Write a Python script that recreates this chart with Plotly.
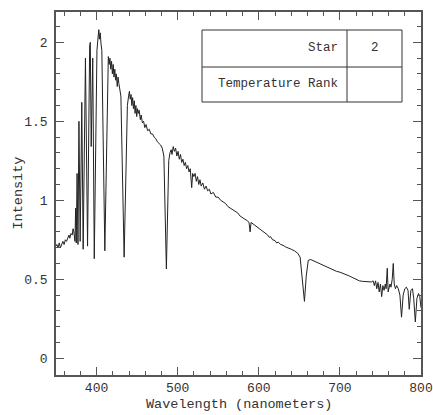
import plotly.graph_objects as go

# Spectrum: wavelength (nm) and intensity
wavelength = [
    350, 351, 352.5, 354, 355.5, 357, 358.5, 360, 361.5, 363, 364.5, 366, 367, 368.5, 370,
    371, 372, 373.4, 374.2, 375.0, 376.0, 377.1, 378.3, 379.8, 381.8, 383.5, 386.3, 388.9,
    391.5, 392.3, 393.4, 395.3, 397.2, 400.5, 402.0, 402.8, 403.5, 404.5, 405.5, 406.5,
    410.2, 413.5, 414.5, 415.5, 416.5, 417.5, 418.5, 419.5, 420.5, 421.5, 422.5, 423.5,
    424.5, 425.5, 426.5, 427.5, 428.5, 430, 434.0, 438, 439.5, 440.5, 441.5, 442.5, 443.5,
    444.5, 445.5, 446.5, 447.5, 448.5, 449.5, 450.5, 451.5, 452.5, 454, 455, 456.5, 458,
    459.5, 461, 463, 465, 467, 469, 471, 473, 475, 477, 479, 481, 483, 486.1, 489, 490.5,
    492, 493, 494.5, 496, 497.5, 499, 500.5, 502, 503.5, 505, 506.5, 508, 509.5, 511,
    512.5, 514, 515.5, 517.3, 518.5, 520, 521.5, 523, 524.5, 526, 527.5, 529, 531, 533,
    535, 537, 539, 541, 544, 547, 550, 553, 556, 559, 562, 565, 568, 571, 574, 577, 580,
    583, 586, 588, 589.3, 590.5, 593, 596, 600, 604, 608, 611, 613, 614.5, 617, 620, 622,
    624, 627, 630, 633, 636, 640, 644, 648, 651, 654, 656.3, 658.5, 661, 664, 668, 672,
    676, 680, 684, 688, 692, 696, 700, 704, 708, 712, 716, 720, 724, 728, 732, 736, 739,
    741, 742.5, 744, 745.5, 747, 748.5, 750, 751.5, 753, 754.5, 756, 757, 758.4, 759.5,
    761.7, 763, 764.5, 765.8, 767, 768.5, 770, 772, 774, 776, 778, 780, 782, 784, 785.5,
    787.5, 789.5, 791, 793, 795, 797, 798.5, 800,
]
intensity = [
    0.71, 0.72, 0.70, 0.73, 0.70, 0.72, 0.74, 0.72, 0.75, 0.74, 0.76, 0.78, 0.76, 0.79, 0.78,
    0.82, 0.80, 0.74, 0.95, 0.73, 1.17, 0.72, 1.50, 0.74, 1.62, 0.69, 1.90, 0.71,
    1.98, 2.00, 1.34, 1.90, 0.63, 1.95, 2.04, 2.08, 2.02, 2.06, 1.99, 1.95,
    0.68, 1.85, 1.91, 1.86, 1.90, 1.83, 1.88, 1.80, 1.86, 1.78, 1.83, 1.76,
    1.80, 1.72, 1.78, 1.74, 1.70, 1.66, 0.64, 1.60, 1.66, 1.69, 1.64, 1.67, 1.60,
    1.65, 1.58, 1.63, 1.55, 1.60, 1.53, 1.58, 1.55, 1.57, 1.51, 1.54, 1.49, 1.50,
    1.46, 1.48, 1.44, 1.45, 1.42, 1.42, 1.40, 1.39, 1.37, 1.36, 1.35, 1.33, 1.28, 0.565, 1.25, 1.30,
    1.32, 1.29, 1.34, 1.31, 1.33, 1.28, 1.31, 1.26, 1.29, 1.24, 1.26, 1.22, 1.24, 1.20,
    1.22, 1.18, 1.20, 1.08, 1.17, 1.15, 1.17, 1.12, 1.15, 1.10, 1.13, 1.09, 1.11, 1.07,
    1.09, 1.06, 1.07, 1.04, 1.05, 1.02, 1.02, 1.00, 0.99, 0.98, 0.96, 0.95, 0.94, 0.93, 0.92, 0.90, 0.89,
    0.885, 0.87, 0.86, 0.80, 0.86, 0.85, 0.835, 0.82, 0.805, 0.79, 0.78, 0.765, 0.77, 0.75, 0.745, 0.73,
    0.735, 0.72, 0.715, 0.705, 0.70, 0.69, 0.68, 0.665, 0.64, 0.50, 0.36, 0.52, 0.62, 0.625, 0.615, 0.605,
    0.60, 0.59, 0.58, 0.57, 0.56, 0.55, 0.545, 0.538, 0.53, 0.52, 0.51, 0.50, 0.49, 0.487, 0.485, 0.487, 0.483,
    0.49, 0.46, 0.49, 0.44, 0.48, 0.42, 0.47, 0.39, 0.46, 0.43, 0.47, 0.44, 0.57, 0.42,
    0.47, 0.45, 0.50, 0.60, 0.47, 0.44, 0.46, 0.44, 0.40, 0.26, 0.40, 0.44, 0.45, 0.43, 0.31,
    0.43, 0.44, 0.38, 0.23, 0.38, 0.41, 0.39, 0.32,
]

x_ticks = [400, 500, 600, 700, 800]
y_ticks = [0, 0.5, 1, 1.5, 2]
y_tick_labels = ["0", "0.5", "1", "1.5", "2"]
x_title = "Wavelength (nanometers)"
y_title = "Intensity"
table_labels = ["Star", "Temperature Rank"]
table_values = ["2", ""]

FONT = "Liberation Mono, DejaVu Sans Mono, monospace"
AX = "#555555"
TXT = "#333333"

fig = go.Figure()
fig.add_trace(go.Scatter(x=wavelength, y=intensity, mode="lines",
                         line=dict(color="#222222", width=1), showlegend=False,
                         hoverinfo="skip"))

axis_common = dict(showgrid=False, zeroline=False, showline=True, linecolor=AX,
                   linewidth=1.5, mirror="ticks", ticks="inside", ticklen=8,
                   tickcolor=AX, tickwidth=1.2, automargin=False,
                   ticklabeloverflow="allow",
                   tickfont=dict(family=FONT, size=13, color=TXT))

fig.update_xaxes(range=[350, 800], tickvals=x_ticks,
                 minor=dict(ticks="inside", ticklen=4, dtick=20, tick0=0,
                            tickcolor=AX, tickwidth=1),
                 **axis_common)
fig.update_yaxes(range=[-0.106, 2.192], tickvals=y_ticks, ticktext=y_tick_labels,
                 minor=dict(ticks="inside", ticklen=4, dtick=0.1, tick0=0,
                            tickcolor=AX, tickwidth=1),
                 ticklabelstandoff=4,
                 **axis_common)

# Axis titles as annotations (pixel offsets from the plot area)
fig.add_annotation(x=0.5, y=0, xref="paper", yref="paper", yshift=-29,
                   text=x_title, showarrow=False, xanchor="center", yanchor="middle",
                   font=dict(family=FONT, size=13.5, color=TXT))
fig.add_annotation(x=0, y=0.5, xref="paper", yref="paper", xshift=-38,
                   text=y_title, showarrow=False, textangle=-90,
                   xanchor="center", yanchor="middle",
                   font=dict(family=FONT, size=13.5, color=TXT))

# Table box in the upper right (paper coordinates, from window pixels)
def px_to_paper_x(p):
    return (p - 56.0) / 365.0

def px_to_paper_y(p):
    return (375.0 - p) / 363.0

x0, x1, xm = px_to_paper_x(202), px_to_paper_x(402), px_to_paper_x(347)
y0, y1, ym = px_to_paper_y(102), px_to_paper_y(30), px_to_paper_y(67)
line_style = dict(color="#333333", width=1)
fig.add_shape(type="rect", xref="paper", yref="paper", x0=x0, x1=x1, y0=y0, y1=y1,
              line=line_style, fillcolor="white", layer="above")
fig.add_shape(type="line", xref="paper", yref="paper", x0=x0, x1=x1, y0=ym, y1=ym,
              line=line_style)
fig.add_shape(type="line", xref="paper", yref="paper", x0=xm, x1=xm, y0=y0, y1=y1,
              line=line_style)

row_centers = [(y1 + ym) / 2, (ym + y0) / 2]
for lab, val, yc in zip(table_labels, table_values, row_centers):
    fig.add_annotation(x=px_to_paper_x(340), y=yc, xref="paper", yref="paper",
                       text=lab, showarrow=False, xanchor="right", yanchor="middle",
                       font=dict(family=FONT, size=12.5, color=TXT))
    if val:
        fig.add_annotation(x=(xm + x1) / 2, y=yc, xref="paper", yref="paper",
                           text=val, showarrow=False, xanchor="center", yanchor="middle",
                           font=dict(family=FONT, size=12.5, color=TXT))

fig.update_layout(width=433, height=415, margin=dict(l=56, r=12, t=12, b=40),
                  plot_bgcolor="white", paper_bgcolor="white")

# Remove the default page margin so the figure fills the window exactly
fig.write_html("out.html", config={"displayModeBar": False},
               post_script="document.body.style.margin='0';")
